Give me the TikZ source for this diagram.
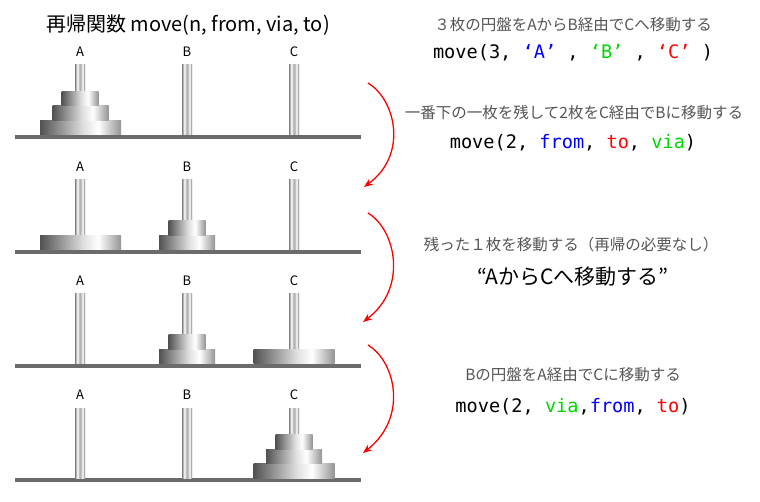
\documentclass[tikz,border=0pt]{standalone}
\usepackage{fontspec}
\setmainfont{Noto Sans CJK JP}
\setmonofont{DejaVu Sans Mono}
\usepackage{tikz}
\definecolor{fromblue}{RGB}{0, 0, 255}
\definecolor{viagreen}{RGB}{0, 215, 0}
\definecolor{tored}{RGB}{255, 0, 0}
\definecolor{note}{RGB}{85, 85, 85}
\usetikzlibrary{arrows.meta}
\pgfdeclarehorizontalshading{diskshade}{100bp}{color(0bp)=(black!68); color(25bp)=(black!68); color(52bp)=(black!12); color(61bp)=(white); color(75bp)=(black!42); color(100bp)=(black!42)}
\pgfdeclarehorizontalshading{rodshade}{100bp}{color(0bp)=(black!50); color(25bp)=(black!50); color(37bp)=(white); color(47bp)=(black!30); color(53bp)=(black!30); color(63bp)=(white); color(75bp)=(black!55); color(100bp)=(black!55)}

\begin{document}
\begin{tikzpicture}
			[x=1pt,y=-1pt,every node/.style={inner sep=0pt},
			 base/.style={fill=black!58},
			 rod/.style={shading=rodshade},
			 disk/.style={shading=diskshade},
			 peg/.style={font=\fontsize{13}{15}\selectfont},
			 say/.style={font=\fontsize{15.5}{18}\selectfont, text=note},
			 code/.style={font=\ttfamily\fontsize{18.6}{22}\selectfont},
			 move/.style={draw=tored, line width=1.3pt, -{Stealth[length=9pt,width=7pt,inset=3pt]}}]
			\useasboundingbox (0,0) rectangle (760,502);
			\node (title) [font=\fontsize{20}{24}\selectfont] at (188,25) {再帰関数 move(n, from, via, to)};
			% state 1
			\fill[base] (15,135) rectangle (361,139);
			\shade[rod] (75,65) rectangle (85,135);
			\shade[rod] (182,65) rectangle (192,135);
			\shade[rod] (289,65) rectangle (299,135);
			\node (a1) [peg] at (80,52) {A};
			\node (b1) [peg] at (187,52) {B};
			\node (c1) [peg] at (294,52) {C};
			\shade[disk] (40,120.5) rectangle (121,135);
			\shade[disk] (52.5,106) rectangle (108.5,120.5);
			\shade[disk] (61.5,91.5) rectangle (98.5,106);
			% state 2
			\fill[base] (15,250) rectangle (361,254);
			\shade[rod] (75,180) rectangle (85,250);
			\shade[rod] (182,180) rectangle (192,250);
			\shade[rod] (289,180) rectangle (299,250);
			\node (a2) [peg] at (80,167) {A};
			\node (b2) [peg] at (187,167) {B};
			\node (c2) [peg] at (294,167) {C};
			\shade[disk] (40,235.5) rectangle (121,250);
			\shade[disk] (159,235.5) rectangle (215,250);
			\shade[disk] (168.5,221) rectangle (205.5,235.5);
			% state 3
			\fill[base] (15,364) rectangle (361,368);
			\shade[rod] (75,294) rectangle (85,364);
			\shade[rod] (182,294) rectangle (192,364);
			\shade[rod] (289,294) rectangle (299,364);
			\node (a3) [peg] at (80,281) {A};
			\node (b3) [peg] at (187,281) {B};
			\node (c3) [peg] at (294,281) {C};
			\shade[disk] (159,349.5) rectangle (215,364);
			\shade[disk] (168.5,335) rectangle (205.5,349.5);
			\shade[disk] (253.5,349.5) rectangle (334.5,364);
			% state 4
			\fill[base] (15,478) rectangle (361,482);
			\shade[rod] (75,408) rectangle (85,478);
			\shade[rod] (182,408) rectangle (192,478);
			\shade[rod] (289,408) rectangle (299,478);
			\node (a4) [peg] at (80,395) {A};
			\node (b4) [peg] at (187,395) {B};
			\node (c4) [peg] at (294,395) {C};
			\shade[disk] (253.5,463.5) rectangle (334.5,478);
			\shade[disk] (266,449) rectangle (322,463.5);
			\shade[disk] (275.5,434.5) rectangle (312.5,449);
			% steps
			\coordinate (s1) at (368,83);
			\coordinate (e1) at (364,187);
			\coordinate (s2) at (368,213);
			\coordinate (e2) at (363,322);
			\coordinate (s3) at (368,345);
			\coordinate (e3) at (363,453);
			\draw[move] (s1) .. controls (396,100) and (408,155) .. (e1);
			\draw[move] (s2) .. controls (396,230) and (408,288) .. (e2);
			\draw[move] (s3) .. controls (396,362) and (408,418) .. (e3);
			% texts
			\node (say1) [say] at (573,25) {３枚の円盤をAからB経由でCへ移動する};
			\node (code1) [code] at (573,53) {move(3, \textcolor{fromblue}{‘A’} , \textcolor{viagreen}{‘B’} , \textcolor{tored}{‘C’} )};
			\node (say2) [say] at (574,113) {一番下の一枚を残して2枚をC経由でBに移動する};
			\node (code2) [code] at (573,143) {move(2, \textcolor{fromblue}{from}, \textcolor{tored}{to}, \textcolor{viagreen}{via})};
			\node (say3) [say] at (571,245) {残った１枚を移動する（再帰の必要なし）};
			\node (quote3) [font=\fontsize{21}{25}\selectfont] at (573,277) {“AからCへ移動する”};
			\node (say4) [say] at (573,375) {Bの円盤をA経由でCに移動する};
			\node (code4) [code] at (573,407) {move(2, \textcolor{viagreen}{via},\textcolor{fromblue}{from}, \textcolor{tored}{to})};
		\end{tikzpicture}
\end{document}
